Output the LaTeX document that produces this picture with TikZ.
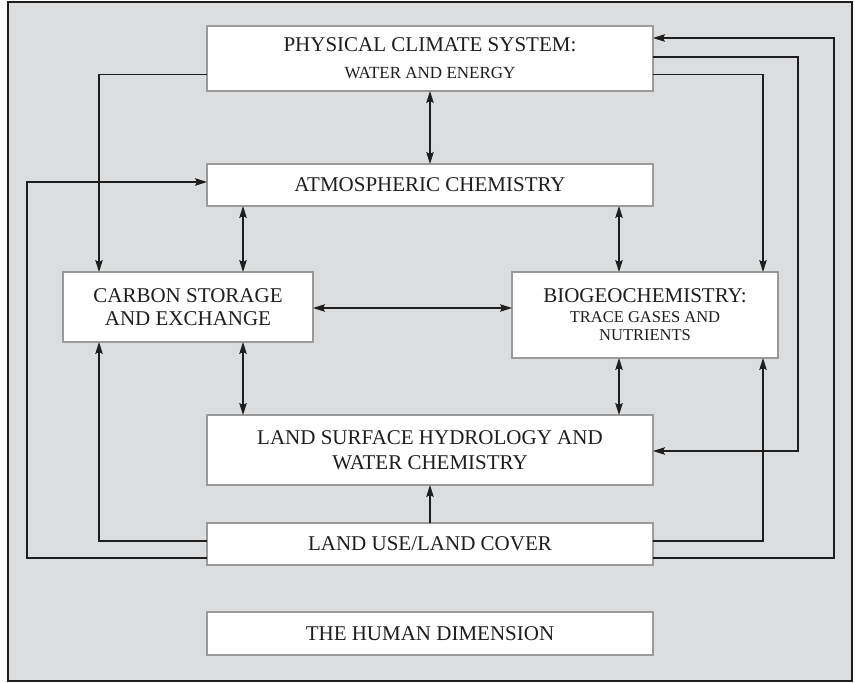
\documentclass[tikz,border=0pt]{standalone}
\usepackage{fontspec}
\setmainfont{Liberation Serif}
\usetikzlibrary{arrows.meta}
\definecolor{bgfill}{HTML}{DCDDDF}
\definecolor{boxline}{HTML}{9A9A9A}
\definecolor{ink}{HTML}{1E1E1E}
\newcommand\subsz{\fontsize{16.5}{18}\selectfont}
\tikzset{
  tip/.tip={Stealth[length=12pt,width=7.5pt,inset=2pt]},
  box/.style={draw=boxline, fill=white, line width=1.1pt, inner sep=0pt, outer sep=0pt,
    align=center, text=ink, minimum width=446pt},
  arr/.style={draw=ink, line width=1.05pt, -tip},
  dbl/.style={draw=ink, line width=1.05pt, tip-tip}
}
\begin{document}
\begin{tikzpicture}[x=1pt,y=-1pt]
\useasboundingbox (0,0) rectangle (855,683);
\fill[bgfill, draw=ink, line width=1.2pt] (8,2) rectangle (852,681);

% boxes
\node[box, minimum height=65pt, font=\fontsize{21}{27}\selectfont] (phys) at (430,58.5)
  {PHYSICAL CLIMATE SYSTEM:\\{\fontsize{17}{18}\selectfont WATER AND ENERGY}};
\node[box, minimum height=42pt, font=\fontsize{21}{24}\selectfont] (atmos) at (430,185)
  {ATMOSPHERIC CHEMISTRY};
\node[box, minimum width=250pt, minimum height=70pt, font=\fontsize{21}{23}\selectfont] (carbon) at (188,307)
  {CARBON STORAGE\\AND EXCHANGE};
\node[box, minimum width=266pt, minimum height=86pt, font=\fontsize{21}{20}\selectfont] (bio) at (645,315)
  {BIOGEOCHEMISTRY:\\{\subsz TRACE GASES AND}\\[-2pt]{\subsz NUTRIENTS}};
\node[box, minimum height=70pt, font=\fontsize{21}{25.5}\selectfont] (surf) at (430,450)
  {LAND SURFACE HYDROLOGY AND\\WATER CHEMISTRY};
\node[box, minimum height=42pt, font=\fontsize{21}{24}\selectfont] (lu) at (430,544)
  {LAND USE/LAND COVER};
\node[box, minimum height=43pt, font=\fontsize{21}{24}\selectfont] (human) at (430,633.5)
  {THE HUMAN DIMENSION};

% guide coordinates
\coordinate (cA) at (99,0);
\coordinate (cB) at (243,0);
\coordinate (cD) at (619,0);
\coordinate (cE) at (763,0);
\coordinate (cF) at (798,0);
\coordinate (cG) at (834,0);
\coordinate (cH) at (27,0);
\coordinate (rA) at (0,38);
\coordinate (rB) at (0,57);
\coordinate (rC) at (0,74.5);
\coordinate (rD) at (0,182);
\coordinate (rE) at (0,308);
\coordinate (rF) at (0,451);
\coordinate (rG) at (0,541);
\coordinate (rH) at (0,558);

% vertical / horizontal double arrows
\draw[dbl] (phys.south) -- (atmos.north);
\draw[dbl] (atmos.south -| cB) -- (carbon.north -| cB);
\draw[dbl] (atmos.south -| cD) -- (bio.north -| cD);
\draw[dbl] (carbon.east |- rE) -- (bio.west |- rE);
\draw[dbl] (carbon.south -| cB) -- (surf.north -| cB);
\draw[dbl] (bio.south -| cD) -- (surf.north -| cD);
\draw[arr] (lu.north) -- (surf.south);

% routed connectors
\draw[arr] (phys.west |- rC) -| (carbon.north -| cA);
\draw[arr] (phys.east |- rC) -| (bio.north -| cE);
\draw[arr] (phys.east |- rB) -| (cF |- rF) -- (surf.east |- rF);
\draw[arr] (lu.east |- rH) -| (cG |- rA) -- (phys.east |- rA);
\draw[arr] (lu.west |- rH) -| (cH |- rD) -- (atmos.west |- rD);
\draw[arr] (lu.west |- rG) -| (carbon.south -| cA);
\draw[arr] (lu.east |- rG) -| (bio.south -| cE);
\end{tikzpicture}
\end{document}
